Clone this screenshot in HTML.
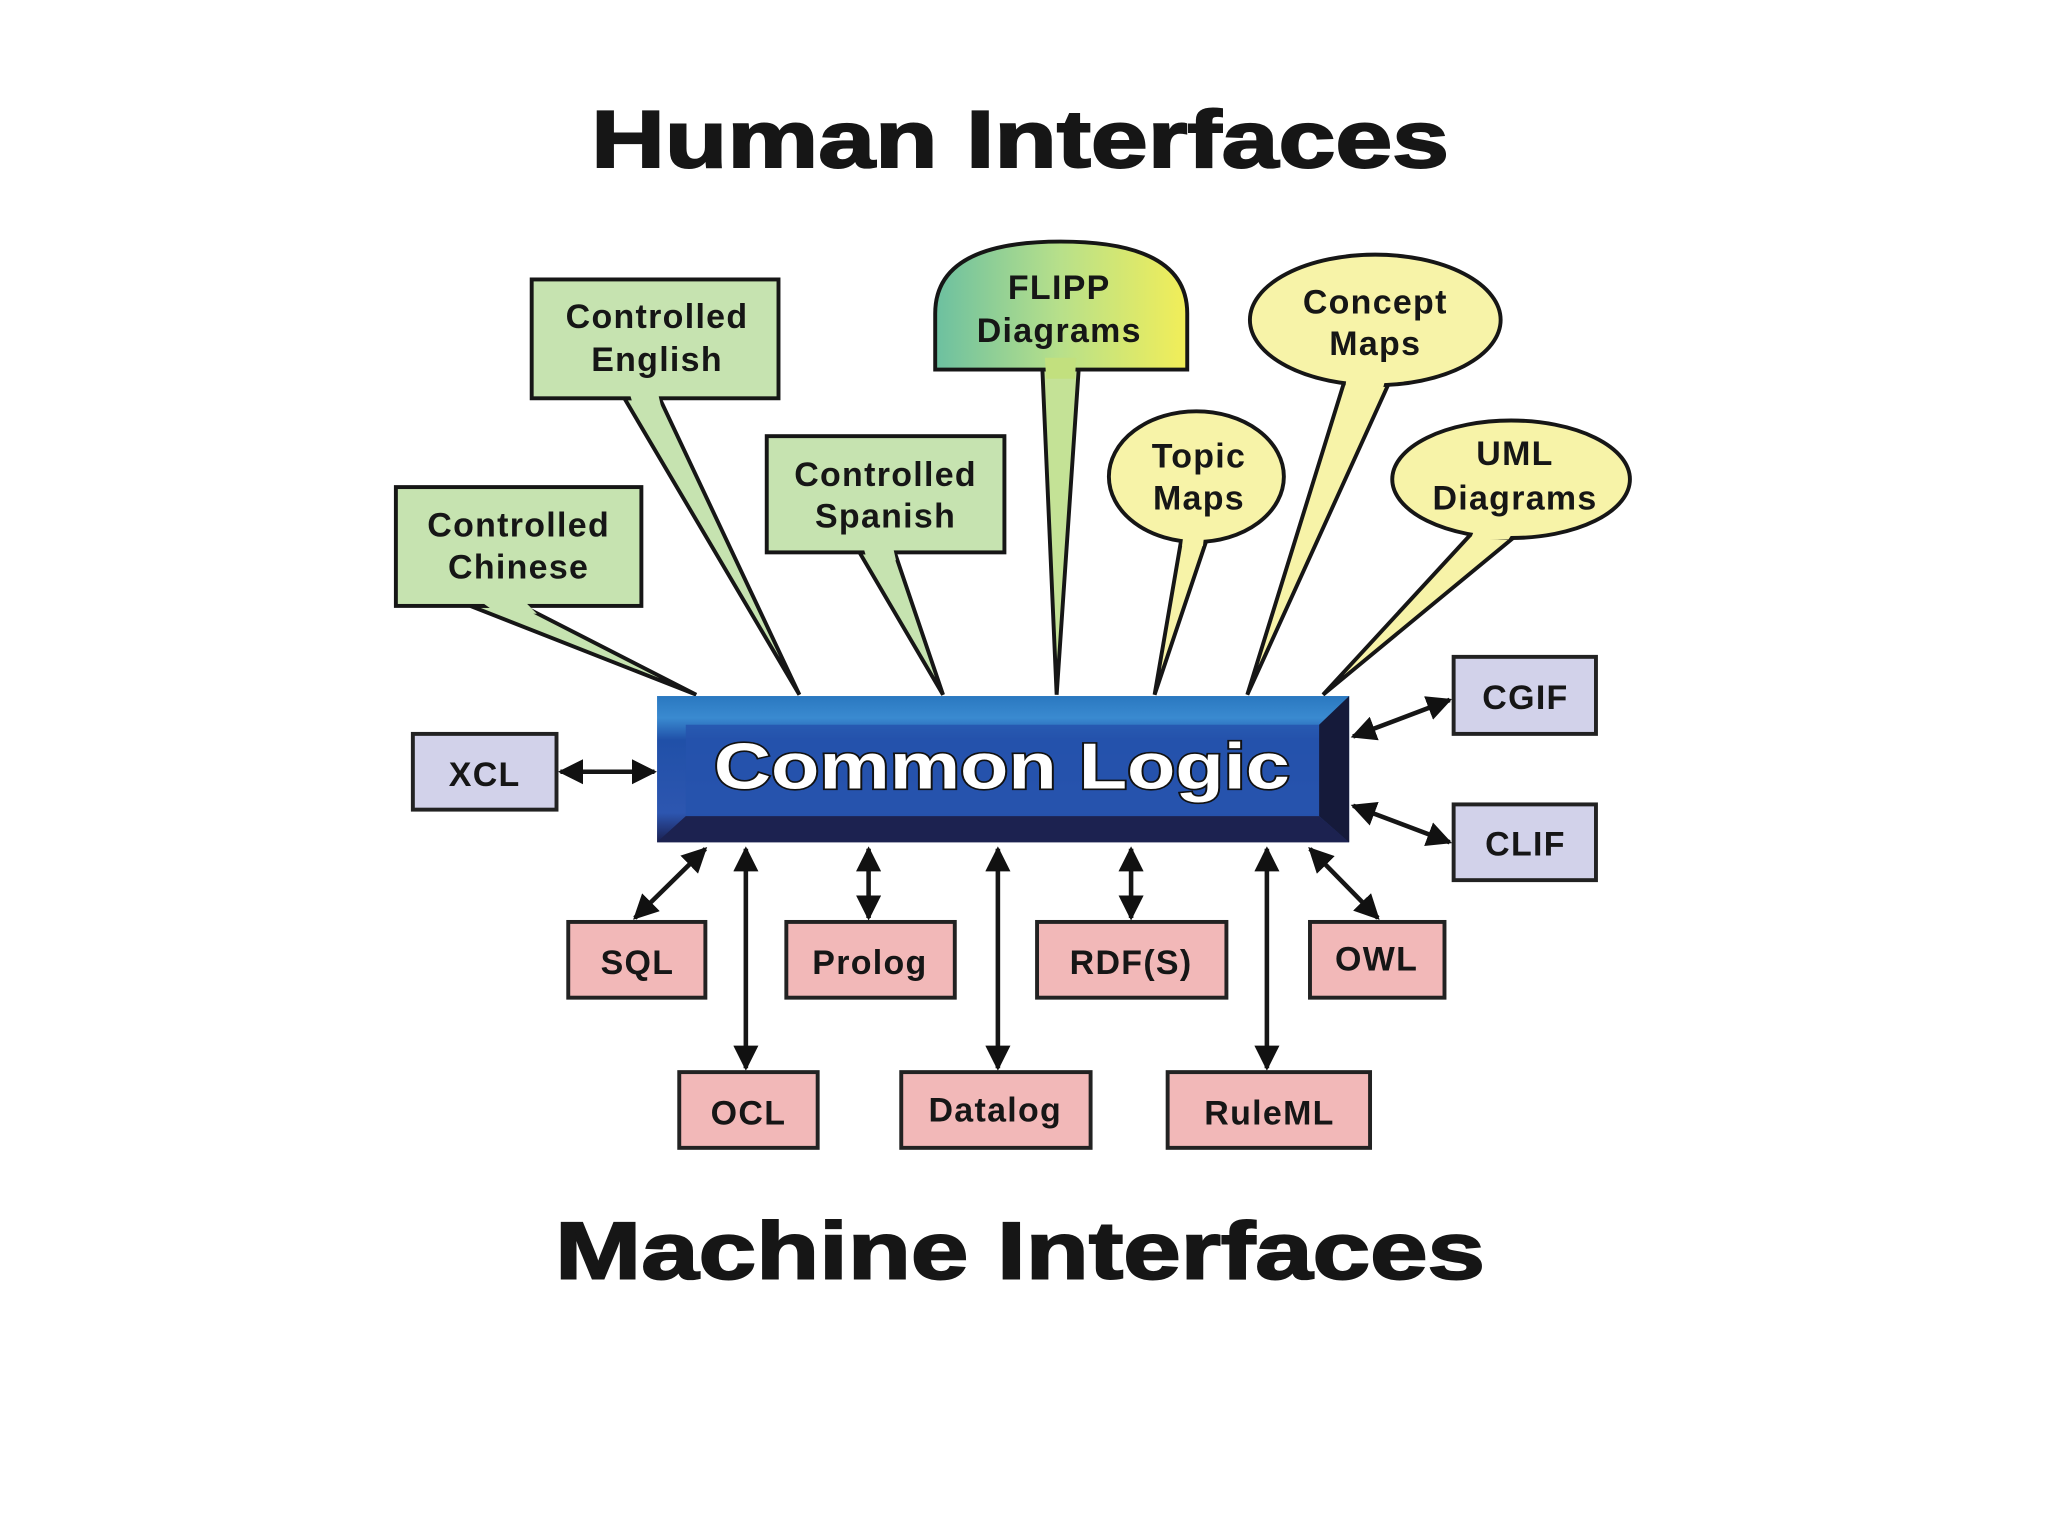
<!DOCTYPE html>
<html><head><meta charset="utf-8"><style>
html,body{margin:0;padding:0;background:#fff}
svg{display:block}
text{font-family:"Liberation Sans",Arial,sans-serif;font-weight:bold}
</style></head><body>
<svg width="2048" height="1537" viewBox="0 0 1568 1177" xmlns="http://www.w3.org/2000/svg">
<defs>
<linearGradient id="fl" x1="0" x2="1" y1="0" y2="0"><stop offset="0" stop-color="#6cc0a0"/><stop offset="0.5" stop-color="#b8e08a"/><stop offset="1" stop-color="#f2ee58"/></linearGradient>
<linearGradient id="cl" x1="0" x2="0" y1="0" y2="1"><stop offset="0" stop-color="#2a78c0"/><stop offset="0.15" stop-color="#3a8ad0"/><stop offset="0.3" stop-color="#2050a8"/><stop offset="0.8" stop-color="#2d56b0"/><stop offset="1" stop-color="#1a1f50"/></linearGradient>
<marker id="ah" viewBox="0 0 10 10" refX="9" refY="5" markerWidth="5.5" markerHeight="5.5" orient="auto-start-reverse"><path d="M0,0 L10,5 L0,10 z" fill="#111"/></marker>
</defs>
<rect width="1568" height="1177" fill="#fff"/>
<text x="781" y="128" text-anchor="middle" font-size="62" textLength="657" lengthAdjust="spacingAndGlyphs" fill="#161616" stroke="#161616" stroke-width="1.5">Human Interfaces</text>
<text x="781" y="979" text-anchor="middle" font-size="62" textLength="712" lengthAdjust="spacingAndGlyphs" fill="#161616" stroke="#161616" stroke-width="1.5">Machine Interfaces</text>

<g stroke="#161616" stroke-width="3" stroke-linejoin="miter">
<polygon points="478,305 505,305 612,532" fill="#c6e3b0"/>
<polygon points="360,464 400,464 533,532" fill="#c6e3b0"/>
<polygon points="658,423 685,423 722,532" fill="#c6e3b0"/>
<polygon points="798,281 826,281 809,532" fill="#c4e296"/>
<polygon points="905,410 925,410 884,532" fill="#f7f3a8"/>
<polygon points="1030,290 1065,290 955,532" fill="#f7f3a8"/>
<polygon points="1130,405 1167,405 1013,532" fill="#f7f3a8"/>
<rect x="407" y="214" width="189" height="91" fill="#c6e3b0"/>
<rect x="303" y="373" width="188" height="91" fill="#c6e3b0"/>
<rect x="587" y="334" width="182" height="89" fill="#c6e3b0"/>
<path d="M716,283 L716,240 Q716,185 812,185 Q909,185 909,240 L909,283 Z" fill="url(#fl)"/>
<ellipse cx="916" cy="365" rx="67" ry="50" fill="#f7f3a8"/>
<ellipse cx="1053" cy="245" rx="96" ry="50" fill="#f7f3a8"/>
<ellipse cx="1157" cy="367" rx="91" ry="45" fill="#f7f3a8"/>
</g>
<g stroke="none">
<polygon points="481,298 503,298 506,311 485,311" fill="#c6e3b0"/>
<polygon points="363,457 398,457 411,470 381,470" fill="#c6e3b0"/>
<polygon points="660,416 683,416 686,429 664,429" fill="#c6e3b0"/>
<polygon points="800,274 824,274 823,290 801,290" fill="#c2e07e"/>
<polygon points="907,402 923,402 921,418 905,418" fill="#f7f3a8"/>
<polygon points="1032,282 1063,282 1059,297 1030,297" fill="#f7f3a8"/>
<polygon points="1132,398 1165,398 1155,413 1126,413" fill="#f7f3a8"/>
</g>
<g font-size="26" fill="#161616" text-anchor="middle" letter-spacing="1">
<text x="503" y="251">Controlled</text><text x="503" y="284">English</text>
<text x="397" y="411">Controlled</text><text x="397" y="443">Chinese</text>
<text x="678" y="372">Controlled</text><text x="678" y="404">Spanish</text>
<text x="811" y="229">FLIPP</text><text x="811" y="262">Diagrams</text>
<text x="918" y="358">Topic</text><text x="918" y="390">Maps</text>
<text x="1053" y="240">Concept</text><text x="1053" y="272">Maps</text>
<text x="1160" y="356">UML</text><text x="1160" y="390">Diagrams</text>
</g>

<rect x="503" y="533" width="530" height="112" fill="url(#cl)"/>
<rect x="525" y="555" width="485" height="70" fill="#2552ad" opacity="0.8"/>
<path d="M1010,555 L1033,533 L1033,645 L1010,625 Z" fill="#151a3a"/>
<path d="M525,625 L1010,625 L1033,645 L503,645 Z" fill="#1c2250"/>
<text x="767" y="604" text-anchor="middle" font-size="50" textLength="441" lengthAdjust="spacingAndGlyphs" fill="#fff" stroke="#111" stroke-width="2.5" paint-order="stroke">Common Logic</text>

<g stroke="#222" stroke-width="3">
<rect x="316" y="562" width="110" height="58" fill="#d2d2ea"/>
<rect x="1113" y="503" width="109" height="59" fill="#d2d2ea"/>
<rect x="1113" y="616" width="109" height="58" fill="#d2d2ea"/>
<rect x="435" y="706" width="105" height="58" fill="#f2b8b8"/>
<rect x="602" y="706" width="129" height="58" fill="#f2b8b8"/>
<rect x="794" y="706" width="145" height="58" fill="#f2b8b8"/>
<rect x="1003" y="706" width="103" height="58" fill="#f2b8b8"/>
<rect x="520" y="821" width="106" height="58" fill="#f2b8b8"/>
<rect x="690" y="821" width="145" height="58" fill="#f2b8b8"/>
<rect x="894" y="821" width="155" height="58" fill="#f2b8b8"/>
</g>
<g font-size="26" fill="#161616" text-anchor="middle" letter-spacing="1">
<text x="371" y="602">XCL</text>
<text x="1168" y="543">CGIF</text>
<text x="1168" y="655">CLIF</text>
<text x="488" y="746">SQL</text>
<text x="666" y="746">Prolog</text>
<text x="866" y="746">RDF(S)</text>
<text x="1054" y="743">OWL</text>
<text x="573" y="861">OCL</text>
<text x="762" y="859">Datalog</text>
<text x="972" y="861">RuleML</text>
</g>
<g stroke="#161616" stroke-width="3.5" marker-start="url(#ah)" marker-end="url(#ah)">
<line x1="429" y1="591" x2="501" y2="591"/>
<line x1="486" y1="703" x2="540" y2="650"/>
<line x1="571" y1="650" x2="571" y2="818"/>
<line x1="665" y1="650" x2="665" y2="703"/>
<line x1="764" y1="650" x2="764" y2="818"/>
<line x1="866" y1="650" x2="866" y2="703"/>
<line x1="970" y1="650" x2="970" y2="818"/>
<line x1="1055" y1="703" x2="1003" y2="650"/>
<line x1="1036" y1="564" x2="1110" y2="536"/>
<line x1="1036" y1="617" x2="1110" y2="645"/>
</g>
</svg>
</body></html>
